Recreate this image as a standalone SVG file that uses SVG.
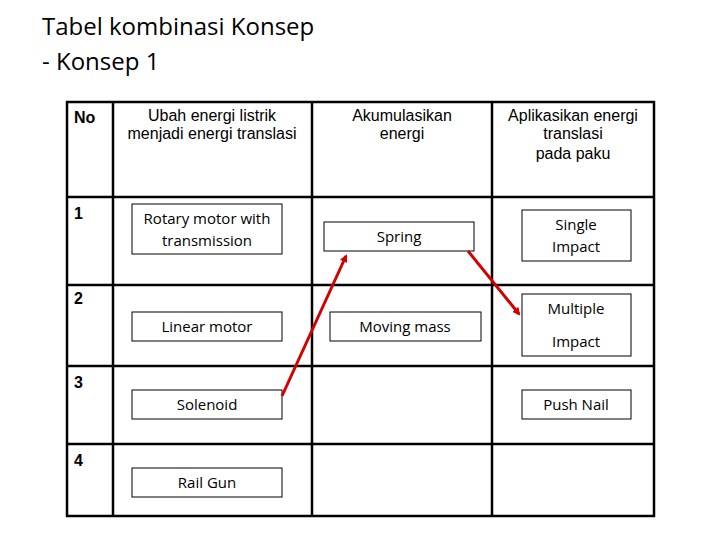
<svg xmlns="http://www.w3.org/2000/svg" width="720" height="540" viewBox="0 0 720 540">
<style>
.g{stroke:#000;stroke-width:2.5;fill:none}
.b{fill:#fff;stroke:#000;stroke-width:1}
.t{font-family:"Liberation Sans",Arial,sans-serif;font-size:16px;text-anchor:middle}
.c{font-family:"Open Sans","Liberation Sans",sans-serif;font-size:15px;text-anchor:middle}
.n{font-family:"Liberation Sans",Arial,sans-serif;font-size:16px;font-weight:bold}
.a{stroke:#d40000;stroke-width:3;fill:none;marker-end:url(#ar)}
</style>
<defs><marker id="ar" markerWidth="8" markerHeight="8" refX="6" refY="4" orient="auto" markerUnits="userSpaceOnUse"><path d="M0,0L8,4L0,8z" fill="#d40000"/></marker></defs>
<rect width="720" height="540" fill="#fff"/>
<text x="42" y="35" font-family="Open Sans,Liberation Sans,sans-serif" font-size="24">Tabel kombinasi Konsep</text>
<text x="42" y="70" font-family="Open Sans,Liberation Sans,sans-serif" font-size="24">- Konsep 1</text>
<g id="table">
<rect x="67" y="102" width="587" height="414" class="g"/>
<path class="g" d="M113 102V516M312 102V516M492 102V516M67 197H654M67 285H654M67 366H654M67 444H654"/>
<text x="74" y="123" class="n">No</text>
<text x="74" y="219" class="n">1</text>
<text x="74" y="304" class="n">2</text>
<text x="74" y="388" class="n">3</text>
<text x="74" y="466" class="n">4</text>
<text class="t" x="212" y="121">Ubah energi listrik</text>
<text class="t" x="212" y="139">menjadi energi translasi</text>
<text class="t" x="402" y="121">Akumulasikan</text>
<text class="t" x="402" y="139">energi</text>
<text class="t" x="573" y="121">Aplikasikan energi</text>
<text class="t" x="573" y="139">translasi</text>
<text class="t" x="573" y="159">pada paku</text>
</g>
<g id="rotary"><rect class="b" x="132" y="204" width="150" height="50"/><text class="c" x="207" y="224">Rotary motor with</text><text class="c" x="207" y="246">transmission</text></g>
<g id="linear"><rect class="b" x="132" y="312" width="150" height="29"/><text class="c" x="207" y="332">Linear motor</text></g>
<g id="solenoid"><rect class="b" x="132" y="390" width="150" height="29"/><text class="c" x="207" y="410">Solenoid</text></g>
<g id="railgun"><rect class="b" x="132" y="468" width="150" height="29"/><text class="c" x="207" y="488">Rail Gun</text></g>
<g id="spring"><rect class="b" x="324" y="222" width="150" height="29"/><text class="c" x="399" y="242">Spring</text></g>
<g id="moving"><rect class="b" x="330" y="312" width="151" height="29"/><text class="c" x="405" y="332">Moving mass</text></g>
<g id="single"><rect class="b" x="522" y="210" width="109" height="51"/><text class="c" x="576" y="230">Single</text><text class="c" x="576" y="252">Impact</text></g>
<g id="multiple"><rect class="b" x="522" y="294" width="109" height="62"/><text class="c" x="576" y="314">Multiple</text><text class="c" x="576" y="347">Impact</text></g>
<g id="push"><rect class="b" x="522" y="390" width="109" height="29"/><text class="c" x="576" y="410">Push Nail</text></g>
<g id="connectors">
<path class="a" d="M282 396L346 256"/>
<path class="a" d="M468 251L519 314"/>
</g>
</svg>
